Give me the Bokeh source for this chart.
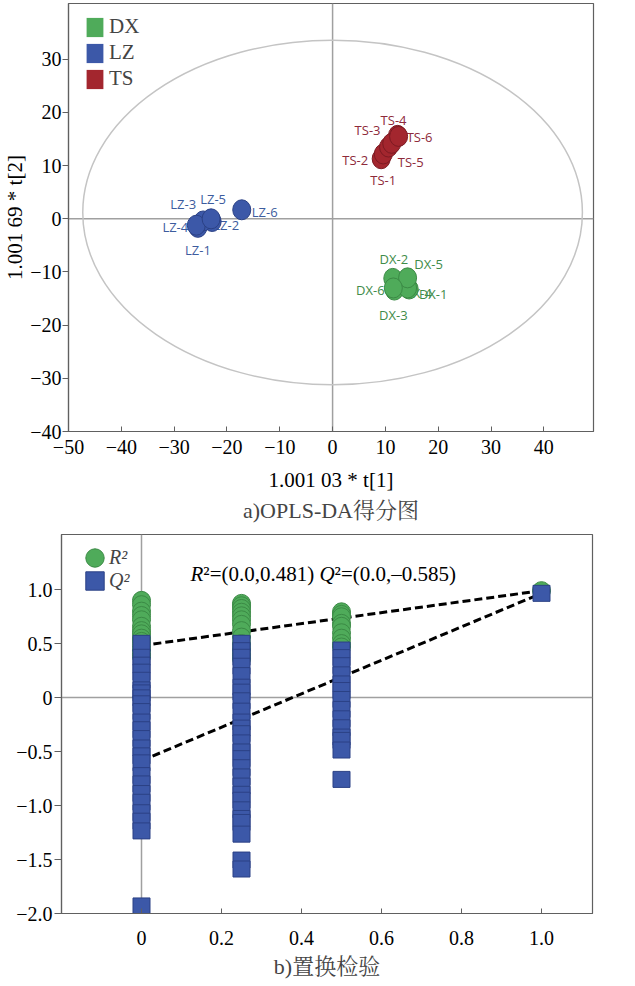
from bokeh.plotting import figure
from bokeh.models import (ColumnDataSource, Legend, LegendItem, Label, Title, Span,
                          FixedTicker, CustomJSTickFormatter)
from bokeh.core.properties import value
from bokeh.embed import file_html
from bokeh.resources import INLINE

# ---------------- OPLS-DA scores: t[1], t[2] per sample ----------------
dx_names = ["DX-1", "DX-2", "DX-3", "DX-4", "DX-5", "DX-6"]
dx_t1 = [14.5, 11.4, 11.7, 14.2, 14.2, 11.5]
dx_t2 = [-13.2, -11.2, -13.4, -13.0, -11.1, -13.0]

lz_names = ["LZ-1", "LZ-2", "LZ-3", "LZ-4", "LZ-5", "LZ-6"]
lz_t1 = [-25.5, -22.8, -24.5, -25.8, -23.0, -17.2]
lz_t2 = [-1.6, -0.5, -0.4, -1.2, 0.0, 1.7]

ts_names = ["TS-1", "TS-2", "TS-3", "TS-4", "TS-5", "TS-6"]
ts_t1 = [9.2, 9.6, 10.6, 12.3, 11.2, 12.5]
ts_t2 = [11.3, 12.2, 13.5, 15.7, 14.2, 15.5]

# Hotelling's T2 ellipse: centre and semi-axes
t2_centre = (0.0, 1.2)
t2_limit_t1 = 47.3
t2_limit_t2 = 32.4

score_xticks = [-50, -40, -30, -20, -10, 0, 10, 20, 30, 40]
score_yticks = [-40, -30, -20, -10, 0, 10, 20, 30]

# ---------------- permutation test ----------------
# correlation of permuted vs. original Y (x) and the R2 / Q2 obtained
perm_r2_x = [0.0] * 14 + [0.25] * 13 + [0.5] * 9 + [1.0]
perm_r2 = [0.90, 0.86, 0.80, 0.76, 0.72, 0.66, 0.62, 0.59, 0.55, 0.52, 0.48, 0.44, 0.40, 0.38,
           0.872, 0.85, 0.825, 0.79, 0.757, 0.72, 0.678, 0.62, 0.56, 0.50, 0.45, 0.40, 0.36,
           0.794, 0.77, 0.748, 0.687, 0.66, 0.60, 0.55, 0.50, 0.468,
           0.99]
perm_q2_x = [0.0] * 24 + [0.25] * 26 + [0.5] * 14 + [1.0]
perm_q2 = [0.502, 0.373, 0.30, 0.235, 0.16, 0.071, 0.043, -0.003, -0.058, -0.13,
           -0.227, -0.298, -0.38, -0.467, -0.54, -0.605, -0.723, -0.80, -0.889, -0.97,
           -1.067, -1.145, -1.235, -1.93,
           0.502, 0.434, 0.373, 0.29, 0.203, 0.096, 0.05, -0.03, -0.126, -0.227,
           -0.283, -0.335, -0.42, -0.504, -0.566, -0.65, -0.735, -0.82, -0.896, -0.951,
           -1.04, -1.12, -1.157, -1.265, -1.505, -1.588,
           0.44, 0.37, 0.295, 0.21, 0.126, 0.065, -0.018, -0.11, -0.197, -0.28,
           -0.366, -0.397, -0.486, -0.758,
           0.965]
r2_intercept = 0.481
q2_intercept = -0.585

perm_xticks = [0, 0.2, 0.4, 0.6, 0.8, 1.0]
perm_yticks = [-2.0, -1.5, -1.0, -0.5, 0, 0.5, 1.0]

# ---------------- styling ----------------
SERIF = "Liberation Serif"
CAPTION_FONT = "Liberation Serif, Noto Serif CJK SC, Noto Sans CJK SC"
GREEN, GREEN_EDGE, GREEN_TEXT = "#4fab5a", "#3b8a45", "#3f8c4a"
BLUE, BLUE_EDGE, BLUE_TEXT = "#3c58a8", "#2b4185", "#3d5c9e"
RED, RED_EDGE, RED_TEXT = "#a3262e", "#7c1a22", "#8e2a3a"
FRAME = "#606060"
ZERO = "#a0a0a0"
TICK_FS = "20px"
TITLE_FS = "21px"

# sample-label placement around each marker (screen px, +y is downwards)
label_offsets = {
    "DX-1": (24, 5), "DX-2": (1, -19), "DX-3": (-1, 25),
    "DX-4": (10, 5), "DX-5": (21, -14), "DX-6": (-23, 2),
    "LZ-1": (0, 23), "LZ-2": (14, 4), "LZ-3": (-20, -17),
    "LZ-4": (-21, 2), "LZ-5": (2, -20), "LZ-6": (23, 2),
    "TS-1": (2, 21), "TS-2": (-28, 6), "TS-3": (-21, -17),
    "TS-4": (-4, -15), "TS-5": (19, 19), "TS-6": (21, 1),
}

# Times-compatible advance widths (em) for composing the annotation
EM = {"R": 0.611, "Q": 0.722, "\u00b2": 0.3, "=": 0.564, "(": 0.333, ")": 0.333,
      ".": 0.25, ",": 0.25, " ": 0.25, "\u2013": 0.5}


def text_width(s, size):
    return sum(EM.get(ch, 0.5) for ch in s) * size


def style_axes(p):
    p.outline_line_color = FRAME
    p.outline_line_width = 1.2
    for ax in (p.xaxis, p.yaxis):
        ax.axis_line_color = FRAME
        ax.axis_line_width = 1.2
        ax.major_tick_line_color = FRAME
        ax.minor_tick_line_color = None
        ax.major_label_text_font = SERIF
        ax.major_label_text_font_size = TICK_FS
        ax.major_label_text_color = "black"
        ax.axis_label_text_font = SERIF
        ax.axis_label_text_font_style = "normal"
        ax.axis_label_text_font_size = TITLE_FS
        ax.axis_label_text_color = "black"
    p.xaxis.major_tick_in = 5
    p.xaxis.major_tick_out = 0
    p.yaxis.major_tick_in = 0
    p.yaxis.major_tick_out = 6
    p.grid.visible = False


def zero_lines(p):
    for dim in ("height", "width"):
        p.add_layout(Span(location=0, dimension=dim, line_color=ZERO,
                          line_width=1.5, level="underlay"))


# ================= a) OPLS-DA score plot =================
p1 = figure(width=635, height=530, x_range=(-50, 49.4), y_range=(-40, 40.5),
            output_backend="svg", toolbar_location=None,
            min_border_left=68, min_border_right=42, min_border_top=3,
            min_border_bottom=99, background_fill_color="white",
            border_fill_color="white")
style_axes(p1)
p1.xaxis.ticker = FixedTicker(ticks=score_xticks)
p1.yaxis.ticker = FixedTicker(ticks=score_yticks)
signed = CustomJSTickFormatter(code="return (tick < 0 ? '\u2212' : '') + Math.abs(tick);")
p1.xaxis.formatter = signed
p1.yaxis.formatter = signed
p1.xaxis.major_label_standoff = 8
p1.yaxis.major_label_standoff = 1
p1.xaxis.axis_label = "1.001 03 * t[1]"
p1.yaxis.axis_label = "1.001 69 * t[2]"
p1.xaxis.axis_label_standoff = 11
p1.yaxis.axis_label_standoff = 0
zero_lines(p1)

p1.ellipse(x=[t2_centre[0]], y=[t2_centre[1]], width=[2 * t2_limit_t1],
           height=[2 * t2_limit_t2], fill_color=None, line_color="#c4c4c4",
           line_width=1.5)

legend_items = []
for names, t1, t2, fill, edge, tcol, grp in [
        (dx_names, dx_t1, dx_t2, GREEN, GREEN_EDGE, GREEN_TEXT, "DX"),
        (lz_names, lz_t1, lz_t2, BLUE, BLUE_EDGE, BLUE_TEXT, "LZ"),
        (ts_names, ts_t1, ts_t2, RED, RED_EDGE, RED_TEXT, "TS")]:
    src = ColumnDataSource(dict(
        x=t1, y=t2, name=names,
        dx=[label_offsets[n][0] for n in names],
        dy=[label_offsets[n][1] for n in names]))
    p1.text("x", "y", text="name", x_offset="dx", y_offset="dy", source=src,
            text_align="center", text_baseline="middle",
            text_font=value("Open Sans"), text_font_size="13px", text_color=tcol)
    p1.ellipse("x", "y", width=18, height=20, width_units="screen",
               height_units="screen", source=src, fill_color=fill,
               line_color=edge, line_width=1)
    # zero-size squares carry the group swatch for the legend
    key = p1.rect("x", "y", width=0, height=0, width_units="screen",
                  height_units="screen", source=src, fill_color=fill,
                  line_color=None)
    legend_items.append(LegendItem(label=grp, renderers=[key]))

leg1 = Legend(items=legend_items, location=(16, 340), orientation="vertical",
              glyph_width=21, glyph_height=24, label_height=24, spacing=1,
              padding=0, margin=0, label_standoff=4,
              label_text_font=SERIF, label_text_font_size="21px",
              background_fill_alpha=0, border_line_alpha=0)
p1.add_layout(leg1)
p1.add_layout(Title(text="a)OPLS-DA得分图", align="center", text_font=CAPTION_FONT,
                    text_font_size="22px", text_font_style="normal",
                    standoff=2), "below")

# ================= b) permutation test =================
p2 = figure(width=635, height=456, x_range=(-0.2, 1.1275), y_range=(-2.0, 1.51),
            output_backend="svg", toolbar_location=None,
            min_border_left=61, min_border_right=43, min_border_top=4,
            min_border_bottom=73, background_fill_color="white",
            border_fill_color="white")
style_axes(p2)
p2.xaxis.ticker = FixedTicker(ticks=perm_xticks)
p2.yaxis.ticker = FixedTicker(ticks=perm_yticks)
p2.xaxis.formatter = CustomJSTickFormatter(
    code="return tick == 0 ? '0' : tick.toFixed(1);")
p2.yaxis.formatter = CustomJSTickFormatter(
    code="return tick == 0 ? '0' : (tick < 0 ? '\u2212' : '') + Math.abs(tick).toFixed(1);")
p2.xaxis.major_label_standoff = 17
p2.yaxis.major_label_standoff = 2
p2.yaxis.major_tick_out = 7
zero_lines(p2)

# regression lines from the intercepts to the original model
p2.line([0, perm_r2_x[-1]], [r2_intercept, perm_r2[-1]], line_color="black",
        line_width=3, line_dash="8 4")
p2.line([0, perm_q2_x[-1]], [q2_intercept, perm_q2[-1]], line_color="black",
        line_width=3, line_dash="8 4")

r2r = p2.ellipse(perm_r2_x, perm_r2, width=18, height=18, width_units="screen",
                 height_units="screen", fill_color=GREEN, line_color=GREEN_EDGE,
                 line_width=1)
q2r = p2.rect(perm_q2_x, perm_q2, width=17, height=16, width_units="screen",
              height_units="screen", fill_color=BLUE, line_color=BLUE_EDGE,
              line_width=1)

leg2 = Legend(items=[LegendItem(label="R\u00b2", renderers=[r2r]),
                     LegendItem(label="Q\u00b2", renderers=[q2r])],
              location=(22, 321), glyph_width=23, glyph_height=23,
              label_height=23, spacing=0, padding=0, margin=0, label_standoff=3,
              label_text_font=SERIF, label_text_font_style="italic",
              label_text_font_size="20px",
              background_fill_alpha=0, border_line_alpha=0)
p2.add_layout(leg2)

# intercept annotation: italic R/Q, upright remainder
ann_size = 21
pieces = [("R", "italic"),
          (f"\u00b2=(0.0,{r2_intercept:.3f}) ", "normal"),
          ("Q", "italic"),
          (f"\u00b2=(0.0,{q2_intercept:.3f})".replace("-", "\u2013"), "normal")]
sx = 129
for txt, style in pieces:
    p2.add_layout(Label(x=sx, y=340, x_units="screen", y_units="screen", text=txt,
                        text_font=SERIF, text_font_style=style,
                        text_font_size=f"{ann_size}px", text_baseline="alphabetic",
                        text_color="black"))
    sx += text_width(txt, ann_size)

p2.add_layout(Title(text="b)置换检验", align="center", text_font=CAPTION_FONT,
                    text_font_size="22px", text_font_style="normal",
                    standoff=8, offset=12), "below")

# two independent roots stacked in the page so each keeps its own frame
open("out.html", "w").write(file_html([p1, p2], INLINE))
